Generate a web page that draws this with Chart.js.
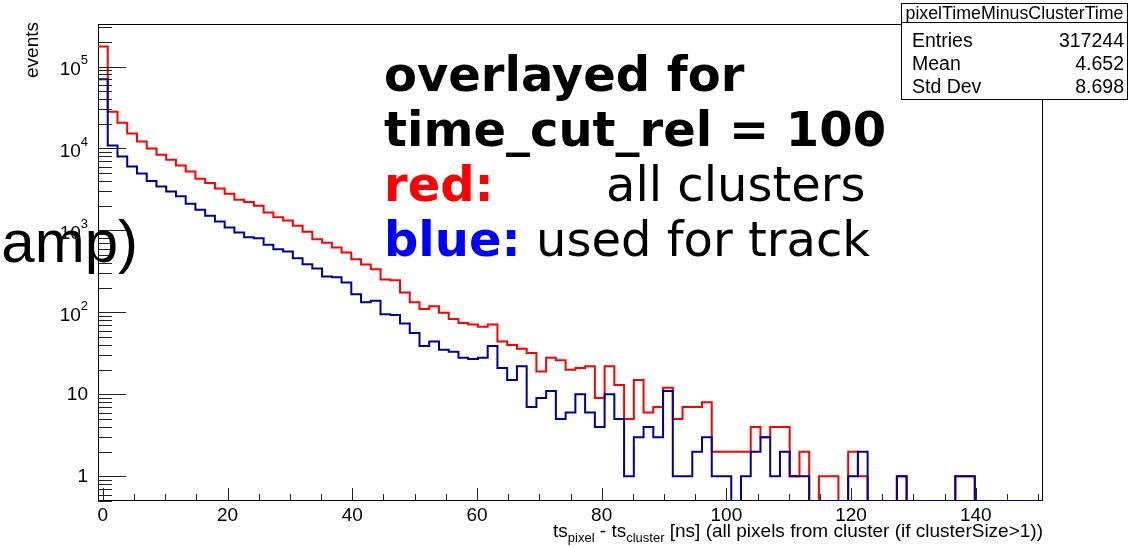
<!DOCTYPE html>
<html>
<head>
<meta charset="utf-8">
<title>pixelTimeMinusClusterTime</title>
<script src="https://cdn.jsdelivr.net/npm/chart.js@4.4.1/dist/chart.umd.min.js"></script>
<style>
  html, body { margin: 0; padding: 0; background: #fff; }
  #hist { display: block; background: #fff; }
</style>
</head>
<body>
<canvas id="hist" width="1130" height="547"></canvas>
<script>
// binning of ts_pixel - ts_cluster (ns): 97 bins, one fine-time unit each
const binLow = -0.78125;
const binWidth = 1.5625;

// bin contents, all clusters
const allClusters = [
  176000, 28000, 20600, 15200, 12200, 10000, 8380, 7280, 6200, 5240,
  4270, 3780, 3250, 2800, 2365, 2217, 1997, 1655, 1453, 1321,
  1138, 961, 783, 706, 618, 537, 446, 384, 337, 252,
  247, 175, 133, 110, 119, 99, 83, 74, 71, 67,
  71, 44, 40, 36, 32, 19, 28, 26, 20, 21,
  22, 9, 22, 13, 5, 15, 6, 7, 12, 5,
  7, 7, 8, 2, 2, 2, 2, 4, 3, 4,
  4, 1, 2, 0, 1, 1, 0, 2, 1, 0,
  0, 0, 1, 0, 0, 0, 0, 0, 1, 1,
  0, 0, 0, 0, 0, 0, 0
];

// bin contents, clusters used for the track
const usedForTrack = [
  70000, 10900, 7990, 6030, 4950, 4000, 3440, 2985, 2620, 2110,
  1785, 1510, 1285, 1085, 943, 828, 805, 667, 591, 552,
  459, 388, 343, 274, 269, 231, 167, 133, 139, 95,
  93, 73, 56, 39, 44, 35, 33, 28, 27, 28,
  39, 21, 15, 22, 7, 9, 11, 5, 6, 10,
  6, 4, 10, 5, 1, 3, 4, 3, 11, 1,
  1, 2, 3, 1, 1, 0, 1, 2, 3, 1,
  2, 1, 1, 0, 0, 0, 0, 1, 2, 0,
  0, 0, 1, 0, 0, 0, 0, 0, 1, 1,
  0, 0, 0, 0, 0, 0, 0
];

// axis range and labels
const yMin = 0.5;
const yMax = 3.3e5;
const xTickValues = [0, 20, 40, 60, 80, 100, 120, 140];
const yDecades = [1, 10, 100, 1000, 10000, 100000];
const yDecadeLabels = [['1', ''], ['10', ''], ['10', '2'], ['10', '3'], ['10', '4'], ['10', '5']];

// stats box of the all-clusters histogram
const statsTitle = 'pixelTimeMinusClusterTime';
const statsRows = [['Entries', '317244'], ['Mean', '4.652'], ['Std Dev', '8.698']];

const HELV = '"Liberation Sans", Arial, Helvetica, sans-serif';
const DEJA = '"DejaVu Sans", sans-serif';

// step outline: one point per lower bin edge, plus the last upper edge
function toSteps(counts) {
  const pts = counts.map((c, i) => ({ x: binLow + i * binWidth, y: Math.max(c, yMin) }));
  pts.push({ x: binLow + counts.length * binWidth, y: Math.max(counts[counts.length - 1], yMin) });
  return pts;
}

function drawPower(ctx, base, exp, xRight, yMid) {
  ctx.font = '13px ' + HELV;
  const we = exp ? ctx.measureText(exp).width : 0;
  ctx.font = '19px ' + HELV;
  ctx.textAlign = 'right';
  ctx.textBaseline = 'middle';
  ctx.fillText(base, xRight - we, yMid + (exp ? 3 : 0));
  if (exp) {
    ctx.font = '13px ' + HELV;
    ctx.fillText(exp, xRight, yMid - 6);
  }
}

const rootPad = {
  id: 'rootPad',
  beforeDatasetsDraw(chart) {
    const { ctx, chartArea: a } = chart;
    ctx.save();
    ctx.strokeStyle = '#000';
    ctx.lineWidth = 1;
    ctx.strokeRect(a.left + 0.5, a.top + 0.5, a.width - 1, a.height - 1);
    ctx.restore();
  },
  afterDatasetsDraw(chart) {
    const { ctx, chartArea: a, scales: { x, y } } = chart;
    ctx.save();
    ctx.strokeStyle = '#222';
    ctx.fillStyle = '#000';
    ctx.lineWidth = 1;

    // x ticks, inside the frame
    ctx.beginPath();
    for (let v = 0; v <= x.max; v += 5) {
      const px = Math.round(x.getPixelForValue(v)) + 0.5;
      const len = xTickValues.includes(v) ? 13 : 7;
      ctx.moveTo(px, a.bottom);
      ctx.lineTo(px, a.bottom - len);
    }
    // y ticks: decades long, 2..9 short
    for (let d = 0.1; d <= y.max; d *= 10) {
      for (let m = 1; m <= 9; m++) {
        const v = d * m;
        if (v < y.min || v > y.max) continue;
        const py = Math.round(y.getPixelForValue(v)) + 0.5;
        const len = m === 1 ? 28 : 14;
        ctx.moveTo(a.left, py);
        ctx.lineTo(a.left + len, py);
      }
    }
    ctx.stroke();

    // tick labels
    ctx.font = '19px ' + HELV;
    ctx.textAlign = 'center';
    ctx.textBaseline = 'middle';
    xTickValues.forEach(v => ctx.fillText(String(v), x.getPixelForValue(v), 516));
    yDecades.forEach((v, i) => drawPower(ctx, yDecadeLabels[i][0], yDecadeLabels[i][1], 88, y.getPixelForValue(v)));

    // y title
    ctx.save();
    ctx.translate(38, 22);
    ctx.rotate(-Math.PI / 2);
    ctx.font = '19px ' + HELV;
    ctx.textAlign = 'right';
    ctx.textBaseline = 'alphabetic';
    ctx.fillText('events', 0, 0);
    ctx.restore();

    // x title with subscripts, right aligned to the frame
    const parts = [['ts', 0], ['pixel', 1], [' - ts', 0], ['cluster', 1], [' [ns] (all pixels from cluster (if clusterSize>1))', 0]];
    let total = 0;
    parts.forEach(p => { ctx.font = (p[1] ? '13px ' : '19px ') + HELV; total += ctx.measureText(p[0]).width; });
    let cx = a.right - total;
    ctx.textAlign = 'left';
    ctx.textBaseline = 'alphabetic';
    parts.forEach(p => {
      ctx.font = (p[1] ? '13px ' : '19px ') + HELV;
      ctx.fillText(p[0], cx, p[1] ? 542 : 537);
      cx += ctx.measureText(p[0]).width;
    });

    // stats box
    const bx = 901.5, by = 3.5, bw = 226, bh = 96;
    ctx.fillStyle = '#fff';
    ctx.fillRect(bx, by, bw, bh);
    ctx.strokeStyle = '#000';
    ctx.strokeRect(bx, by, bw, bh);
    ctx.beginPath();
    ctx.moveTo(bx, 22.5);
    ctx.lineTo(bx + bw, 22.5);
    ctx.stroke();
    ctx.fillStyle = '#000';
    ctx.font = '17.8px ' + HELV;
    ctx.textAlign = 'center';
    ctx.fillText(statsTitle, bx + bw / 2, 19);
    ctx.font = '19.5px ' + HELV;
    statsRows.forEach((r, i) => {
      const base = 47 + i * 23;
      ctx.textAlign = 'left';
      ctx.fillText(r[0], 912, base);
      ctx.textAlign = 'right';
      ctx.fillText(r[1], 1124, base);
    });

    // annotation block
    const lx = 384;
    ctx.textAlign = 'left';
    ctx.font = 'bold 48px ' + DEJA;
    ctx.fillText('overlayed for', lx, 91);
    ctx.fillText('time_cut_rel = 100', lx, 146);
    ctx.fillStyle = '#ff0000';
    ctx.fillText('red:', lx, 201);
    ctx.fillStyle = '#0000ff';
    ctx.fillText('blue:', lx, 256);
    const wBlue = ctx.measureText('blue:').width;
    ctx.fillStyle = '#000';
    ctx.font = '48px ' + DEJA;
    ctx.fillText('all clusters', 606, 201);
    ctx.fillText(' used for track', lx + wBlue, 256);

    // leftover label text spilling in from the left edge
    ctx.font = '60px ' + HELV;
    ctx.textAlign = 'right';
    ctx.fillText('amp)', 138, 262);

    ctx.restore();
  }
};

new Chart(document.getElementById('hist').getContext('2d'), {
  type: 'line',
  data: {
    datasets: [
      {
        label: 'all clusters',
        data: toSteps(allClusters),
        borderColor: '#ff0000',
        borderWidth: 2,
        stepped: true,
        pointRadius: 0,
        fill: false,
        order: 2
      },
      {
        label: 'used for track',
        data: toSteps(usedForTrack),
        borderColor: '#000099',
        borderWidth: 2,
        stepped: true,
        pointRadius: 0,
        fill: false,
        order: 1
      }
    ]
  },
  options: {
    responsive: false,
    devicePixelRatio: 1,
    animation: false,
    layout: { padding: { left: 98, right: 87, top: 24, bottom: 46 } },
    scales: {
      x: { type: 'linear', min: binLow, max: binLow + allClusters.length * binWidth, display: false },
      y: { type: 'logarithmic', min: yMin, max: yMax, display: false }
    },
    plugins: {
      legend: { display: false },
      tooltip: { enabled: false }
    }
  },
  plugins: [rootPad]
});
</script>
</body>
</html>
